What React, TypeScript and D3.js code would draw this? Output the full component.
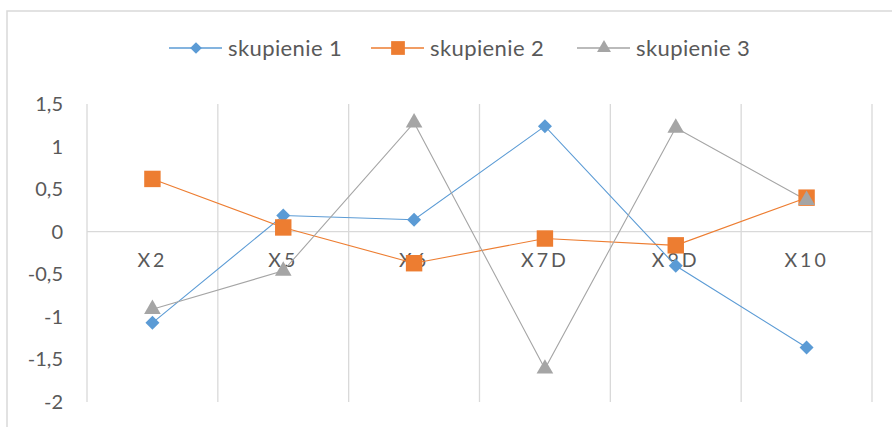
import React from "react";
import * as d3 from "d3";

const categories = ["X2", "X5", "X6", "X7D", "X9D", "X10"];
const seriesNames = ["skupienie 1", "skupienie 2", "skupienie 3"];
const skupienie1 = [-1.07, 0.19, 0.14, 1.24, -0.4, -1.36];
const skupienie2 = [0.62, 0.05, -0.37, -0.08, -0.16, 0.4];
const skupienie3 = [-0.91, -0.46, 1.28, -1.61, 1.22, 0.37];
const yTicks = [1.5, 1, 0.5, 0, -0.5, -1, -1.5, -2];

const colors = ["#5B9BD5", "#ED7D31", "#A5A5A5"];
const symbols = [d3.symbolDiamond2, d3.symbolSquare, d3.symbolTriangle];
const symbolSizes = [125, 270, 120];

const width = 892;
const height = 427;
const font = "Lato, 'Open Sans', sans-serif";

const App = () => {
  const allSeries = [skupienie1, skupienie2, skupienie3];

  const x = d3.scaleBand().domain(categories).range([87, 872]).padding(0);
  const cx = (c: string) => (x(c) as number) + x.bandwidth() / 2;
  const y = d3.scaleLinear().domain([-2, 1.5]).range([402, 104]);

  const line = d3
    .line<number>()
    .x((d, i) => cx(categories[i]))
    .y((d) => y(d));

  const fmt = (v: number) => String(v).replace(".", ",");

  // legend marker centres
  const legendX = [196, 398, 604];

  return (
    <svg
      width={width}
      height={height}
      style={{ position: "absolute", left: 0, top: 0, background: "#fff" }}
    >
      <rect x={7} y={11} width={width} height={height} fill="#fff" stroke="#d9d9d9" strokeWidth={1.5} />

      {/* vertical gridlines */}
      {categories.concat(["end"]).map((c, i) => {
        const gx = i < categories.length ? (x(c) as number) : 872;
        return (
          <line key={"g" + i} x1={gx} x2={gx} y1={y(1.5)} y2={y(-2)} stroke="#d9d9d9" strokeWidth={1.3} />
        );
      })}
      {/* zero axis */}
      <line x1={87} x2={872} y1={y(0)} y2={y(0)} stroke="#d9d9d9" strokeWidth={1.3} />

      {yTicks.map((t) => (
        <text
          key={t}
          x={63}
          y={y(t)}
          dy="0.35em"
          textAnchor="end"
          fontFamily={font}
          fontSize={20}
          fill="#595959"
        >
          {fmt(t)}
        </text>
      ))}

      {categories.map((c) => (
        <text
          key={c}
          x={cx(c)}
          y={y(0) + 35}
          textAnchor="middle"
          fontFamily={font}
          fontSize={19.5}
          letterSpacing={3}
          fill="#595959"
        >
          {c}
        </text>
      ))}

      {allSeries.map((s, k) => (
        <path key={"l" + k} d={line(s) as string} fill="none" stroke={colors[k]} strokeWidth={1.1} />
      ))}

      {allSeries.map((s, k) =>
        s.map((v, i) => (
          <path
            key={"m" + k + "-" + i}
            d={d3.symbol(symbols[k], symbolSizes[k])() as string}
            transform={`translate(${cx(categories[i])},${y(v)})`}
            fill={colors[k]}
          />
        ))
      )}

      {/* legend */}
      {seriesNames.map((n, k) => (
        <g key={n} transform={`translate(${legendX[k]},48)`}>
          <line x1={-27} x2={26} y1={0} y2={0} stroke={colors[k]} strokeWidth={1.5} />
          <path d={d3.symbol(symbols[k], symbolSizes[k] * 0.7)() as string} fill={colors[k]} />
          <text x={32} dy="0.35em" fontFamily={font} fontSize={22} letterSpacing={0.4} fill="#595959">
            {n}
          </text>
        </g>
      ))}
    </svg>
  );
};

export default App;
